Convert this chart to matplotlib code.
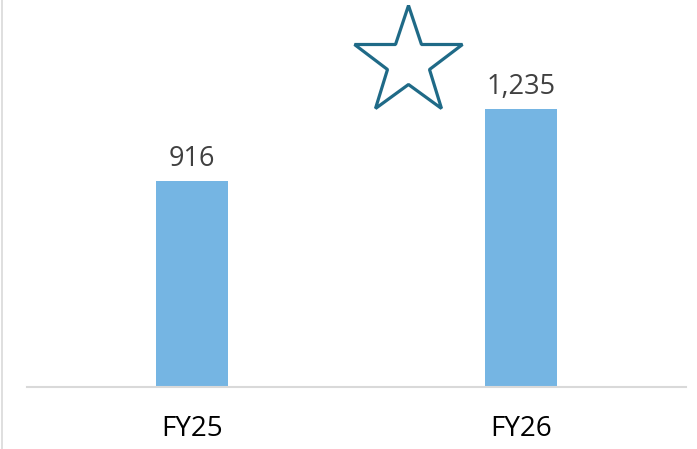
import matplotlib
matplotlib.use("Agg")
import matplotlib.pyplot as plt
from matplotlib.lines import Line2D

# data
categorias = ["FY25", "FY26"]
valores = [916, 1235]
etiquetas = ["916", "1,235"]

COLOR_BARRA = "#75B5E3"
COLOR_ESTRELLA = "#1F6A87"

plt.rcParams["font.family"] = ["Open Sans", "DejaVu Sans"]

fig = plt.figure(figsize=(6.97, 4.49), dpi=100)
ax = fig.add_axes([27 / 697, 62 / 449, 659 / 697, 387 / 449])

x = range(len(categorias))
ax.bar(x, valores, width=0.22, color=COLOR_BARRA, zorder=2)

for xi, v, lab in zip(x, valores, etiquetas):
    ax.annotate(lab, (xi, v), xytext=(0, 6), textcoords="offset points",
                ha="center", va="bottom", fontsize=19.5, color="#404040")

ax.set_xlim(-0.5, 1.5)
ax.set_ylim(0, 1720)
ax.set_xticks(list(x))
ax.set_xticklabels(categorias, fontsize=20, color="black")
ax.tick_params(axis="x", length=0, pad=20)
ax.set_yticks([])
for lado in ["top", "right", "left"]:
    ax.spines[lado].set_visible(False)
ax.spines["bottom"].set_color("#d9d9d9")
ax.spines["bottom"].set_linewidth(1.5)

# estrella decorativa
ax.plot([0.657], [1445], marker="*", markersize=82, markerfacecolor="white",
        markeredgecolor=COLOR_ESTRELLA, markeredgewidth=2.3, clip_on=False)

# borde izquierdo
fig.add_artist(Line2D([1.5 / 697, 1.5 / 697], [0, 1], color="#d9d9d9",
                      linewidth=1.2, transform=fig.transFigure))

fig.savefig("out.png", dpi=100, facecolor="white")
